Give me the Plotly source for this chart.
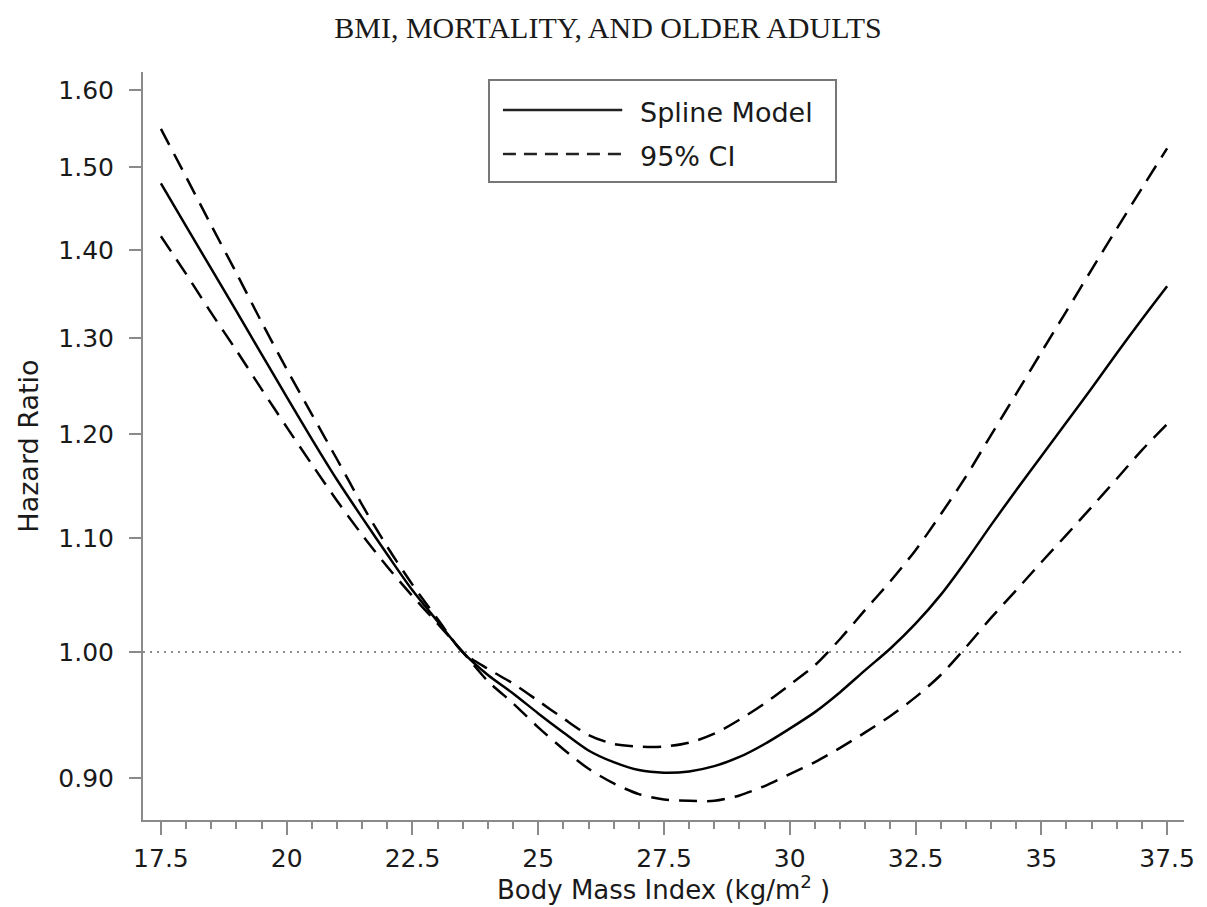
import plotly.graph_objects as go

# ---- data ----
bmi = [17.5, 18, 18.5, 19, 19.5, 20, 20.5, 21, 21.5, 22, 22.5, 23, 23.5,
       24, 24.5, 25, 25.5, 26, 26.5, 27, 27.5, 28, 28.5, 29, 29.5, 30,
       30.5, 31, 31.5, 32, 32.5, 33, 33.5, 34, 34.5, 35, 35.5, 36, 36.5,
       37, 37.5]

hr_spline = [1.480, 1.428, 1.378, 1.330, 1.283, 1.238, 1.195, 1.155, 1.119,
             1.085, 1.053, 1.026, 1.000,
             0.981, 0.966, 0.950, 0.935, 0.921, 0.912, 0.906, 0.904, 0.905,
             0.909, 0.916, 0.926, 0.938, 0.951, 0.967, 0.985, 1.003, 1.024,
             1.049, 1.079, 1.112, 1.145, 1.178, 1.212, 1.247, 1.284, 1.321,
             1.358]

ci_upper = [1.549, 1.488, 1.429, 1.373, 1.318, 1.267, 1.220, 1.175, 1.131,
            1.092, 1.058, 1.028, 1.000,
            0.986, 0.974, 0.960, 0.946, 0.933, 0.926, 0.924, 0.924, 0.927,
            0.934, 0.945, 0.958, 0.973, 0.989, 1.011, 1.036, 1.061, 1.089,
            1.122, 1.158, 1.199, 1.241, 1.285, 1.330, 1.377, 1.425, 1.474,
            1.524]

ci_lower = [1.416, 1.372, 1.328, 1.287, 1.246, 1.207, 1.170, 1.135, 1.103,
            1.074, 1.048, 1.024, 1.000,
            0.976, 0.958, 0.939, 0.922, 0.907, 0.896, 0.888, 0.884, 0.883,
            0.883, 0.887, 0.894, 0.903, 0.912, 0.923, 0.935, 0.948, 0.963,
            0.981, 1.004, 1.029, 1.053, 1.078, 1.103, 1.129, 1.156, 1.184,
            1.210]

x_tickvals = [17.5, 20, 22.5, 25, 27.5, 30, 32.5, 35, 37.5]
x_ticktext = ["17.5", "20", "22.5", "25", "27.5", "30", "32.5", "35", "37.5"]
y_tickvals = [0.90, 1.00, 1.10, 1.20, 1.30, 1.40, 1.50, 1.60]
y_ticktext = ["0.90", "1.00", "1.10", "1.20", "1.30", "1.40", "1.50", "1.60"]

ref_hr = 1.0
x_range = [17.144, 37.836]
y_range_log10 = [-0.0610, 0.2107]

title_text = "BMI, MORTALITY, AND OLDER ADULTS"
x_title = "Body Mass Index (kg/m<sup>2</sup> )"
y_title = "Hazard Ratio"
legend_labels = ["Spline Model", "95% CI"]

# ---- styles ----
SANS = "DejaVu Sans"
AXIS_COL = "#8a8a8a"
TXT_COL = "#1a1a1a"
DASH = "18px,10px"

fig = go.Figure()

# reference line at HR = 1
fig.add_trace(go.Scatter(x=x_range, y=[ref_hr, ref_hr], mode="lines",
                         line=dict(color="#666666", width=1.6, dash="2px,5px"),
                         hoverinfo="skip", showlegend=False))

fig.add_trace(go.Scatter(x=bmi, y=ci_upper, mode="lines",
                         line=dict(color="black", width=2.5, dash=DASH,
                                   shape="spline", smoothing=0.8),
                         showlegend=False, name="95% CI upper"))
fig.add_trace(go.Scatter(x=bmi, y=ci_lower, mode="lines",
                         line=dict(color="black", width=2.5, dash=DASH,
                                   shape="spline", smoothing=0.8),
                         showlegend=False, name="95% CI lower"))
fig.add_trace(go.Scatter(x=bmi, y=hr_spline, mode="lines",
                         line=dict(color="black", width=2.5,
                                   shape="spline", smoothing=0.8),
                         showlegend=False, name="Spline Model"))

W, H = 1207, 907
ML, MR, MT, MB = 143, 17, 72, 87
PW, PH = W - ML - MR, H - MT - MB


def px2paper(px, py):
    return (px - ML) / PW, (H - MB - py) / PH


fig.update_layout(
    width=W, height=H,
    margin=dict(l=ML, r=MR, t=MT, b=MB, pad=0),
    plot_bgcolor="white", paper_bgcolor="white",
    showlegend=False,
    title=dict(text=title_text, x=608 / W, y=1 - 27 / H,
               xanchor="center", yanchor="middle",
               font=dict(family="Liberation Serif", size=30, color=TXT_COL)),
)

fig.update_xaxes(
    range=x_range, showgrid=False, zeroline=False,
    showline=True, linecolor=AXIS_COL, linewidth=2,
    ticks="outside", ticklen=13, tickwidth=2, tickcolor=AXIS_COL,
    tickvals=x_tickvals, ticktext=x_ticktext,
    tickfont=dict(family=SANS, size=25, color=TXT_COL),
    ticklabelstandoff=2,
    minor=dict(ticks="outside", tick0=17.5, dtick=0.5, ticklen=7,
               tickwidth=2, tickcolor=AXIS_COL, showgrid=False),
)
fig.update_yaxes(
    type="log", range=y_range_log10, showgrid=False, zeroline=False,
    showline=True, linecolor=AXIS_COL, linewidth=2,
    ticks="outside", ticklen=12, tickwidth=2, tickcolor=AXIS_COL,
    tickvals=y_tickvals, ticktext=y_ticktext,
    tickfont=dict(family=SANS, size=25, color=TXT_COL),
    ticklabelstandoff=10,
)

# axis titles
ax_x, ax_y = px2paper(667, 888)
fig.add_annotation(text=x_title, x=ax_x, y=ax_y, xref="paper", yref="paper",
                   showarrow=False, xanchor="center", yanchor="middle",
                   font=dict(family=SANS, size=26, color=TXT_COL))
ay_x, ay_y = px2paper(27, 446)
fig.add_annotation(text=y_title, x=ay_x, y=ay_y, xref="paper", yref="paper",
                   showarrow=False, textangle=-90, xanchor="center",
                   yanchor="middle",
                   font=dict(family=SANS, size=27, color=TXT_COL))

# legend drawn as a box
bx0, by0 = px2paper(491, 182)
bx1, by1 = px2paper(840, 80)
fig.add_shape(type="rect", xref="paper", yref="paper", x0=bx0, y0=by0,
              x1=bx1, y1=by1, line=dict(color="#777777", width=2),
              fillcolor="white", layer="above")
lx0, ly1 = px2paper(505, 110)
lx1, ly2 = px2paper(625, 154)
fig.add_shape(type="line", xref="paper", yref="paper", x0=lx0, x1=lx1,
              y0=ly1, y1=ly1, line=dict(color="#222222", width=2.4),
              layer="above")
fig.add_shape(type="line", xref="paper", yref="paper", x0=lx0, x1=lx1,
              y0=ly2, y1=ly2, line=dict(color="#222222", width=2.4,
                                        dash="13px,8px"), layer="above")
tx, ty1 = px2paper(641, 112)
_, ty2 = px2paper(641, 156)
for lbl, ty in zip(legend_labels, [ty1, ty2]):
    fig.add_annotation(text=lbl, x=tx, y=ty, xref="paper", yref="paper",
                       showarrow=False, xanchor="left", yanchor="middle",
                       font=dict(family=SANS, size=27, color=TXT_COL))

fig.write_html("out.html")
